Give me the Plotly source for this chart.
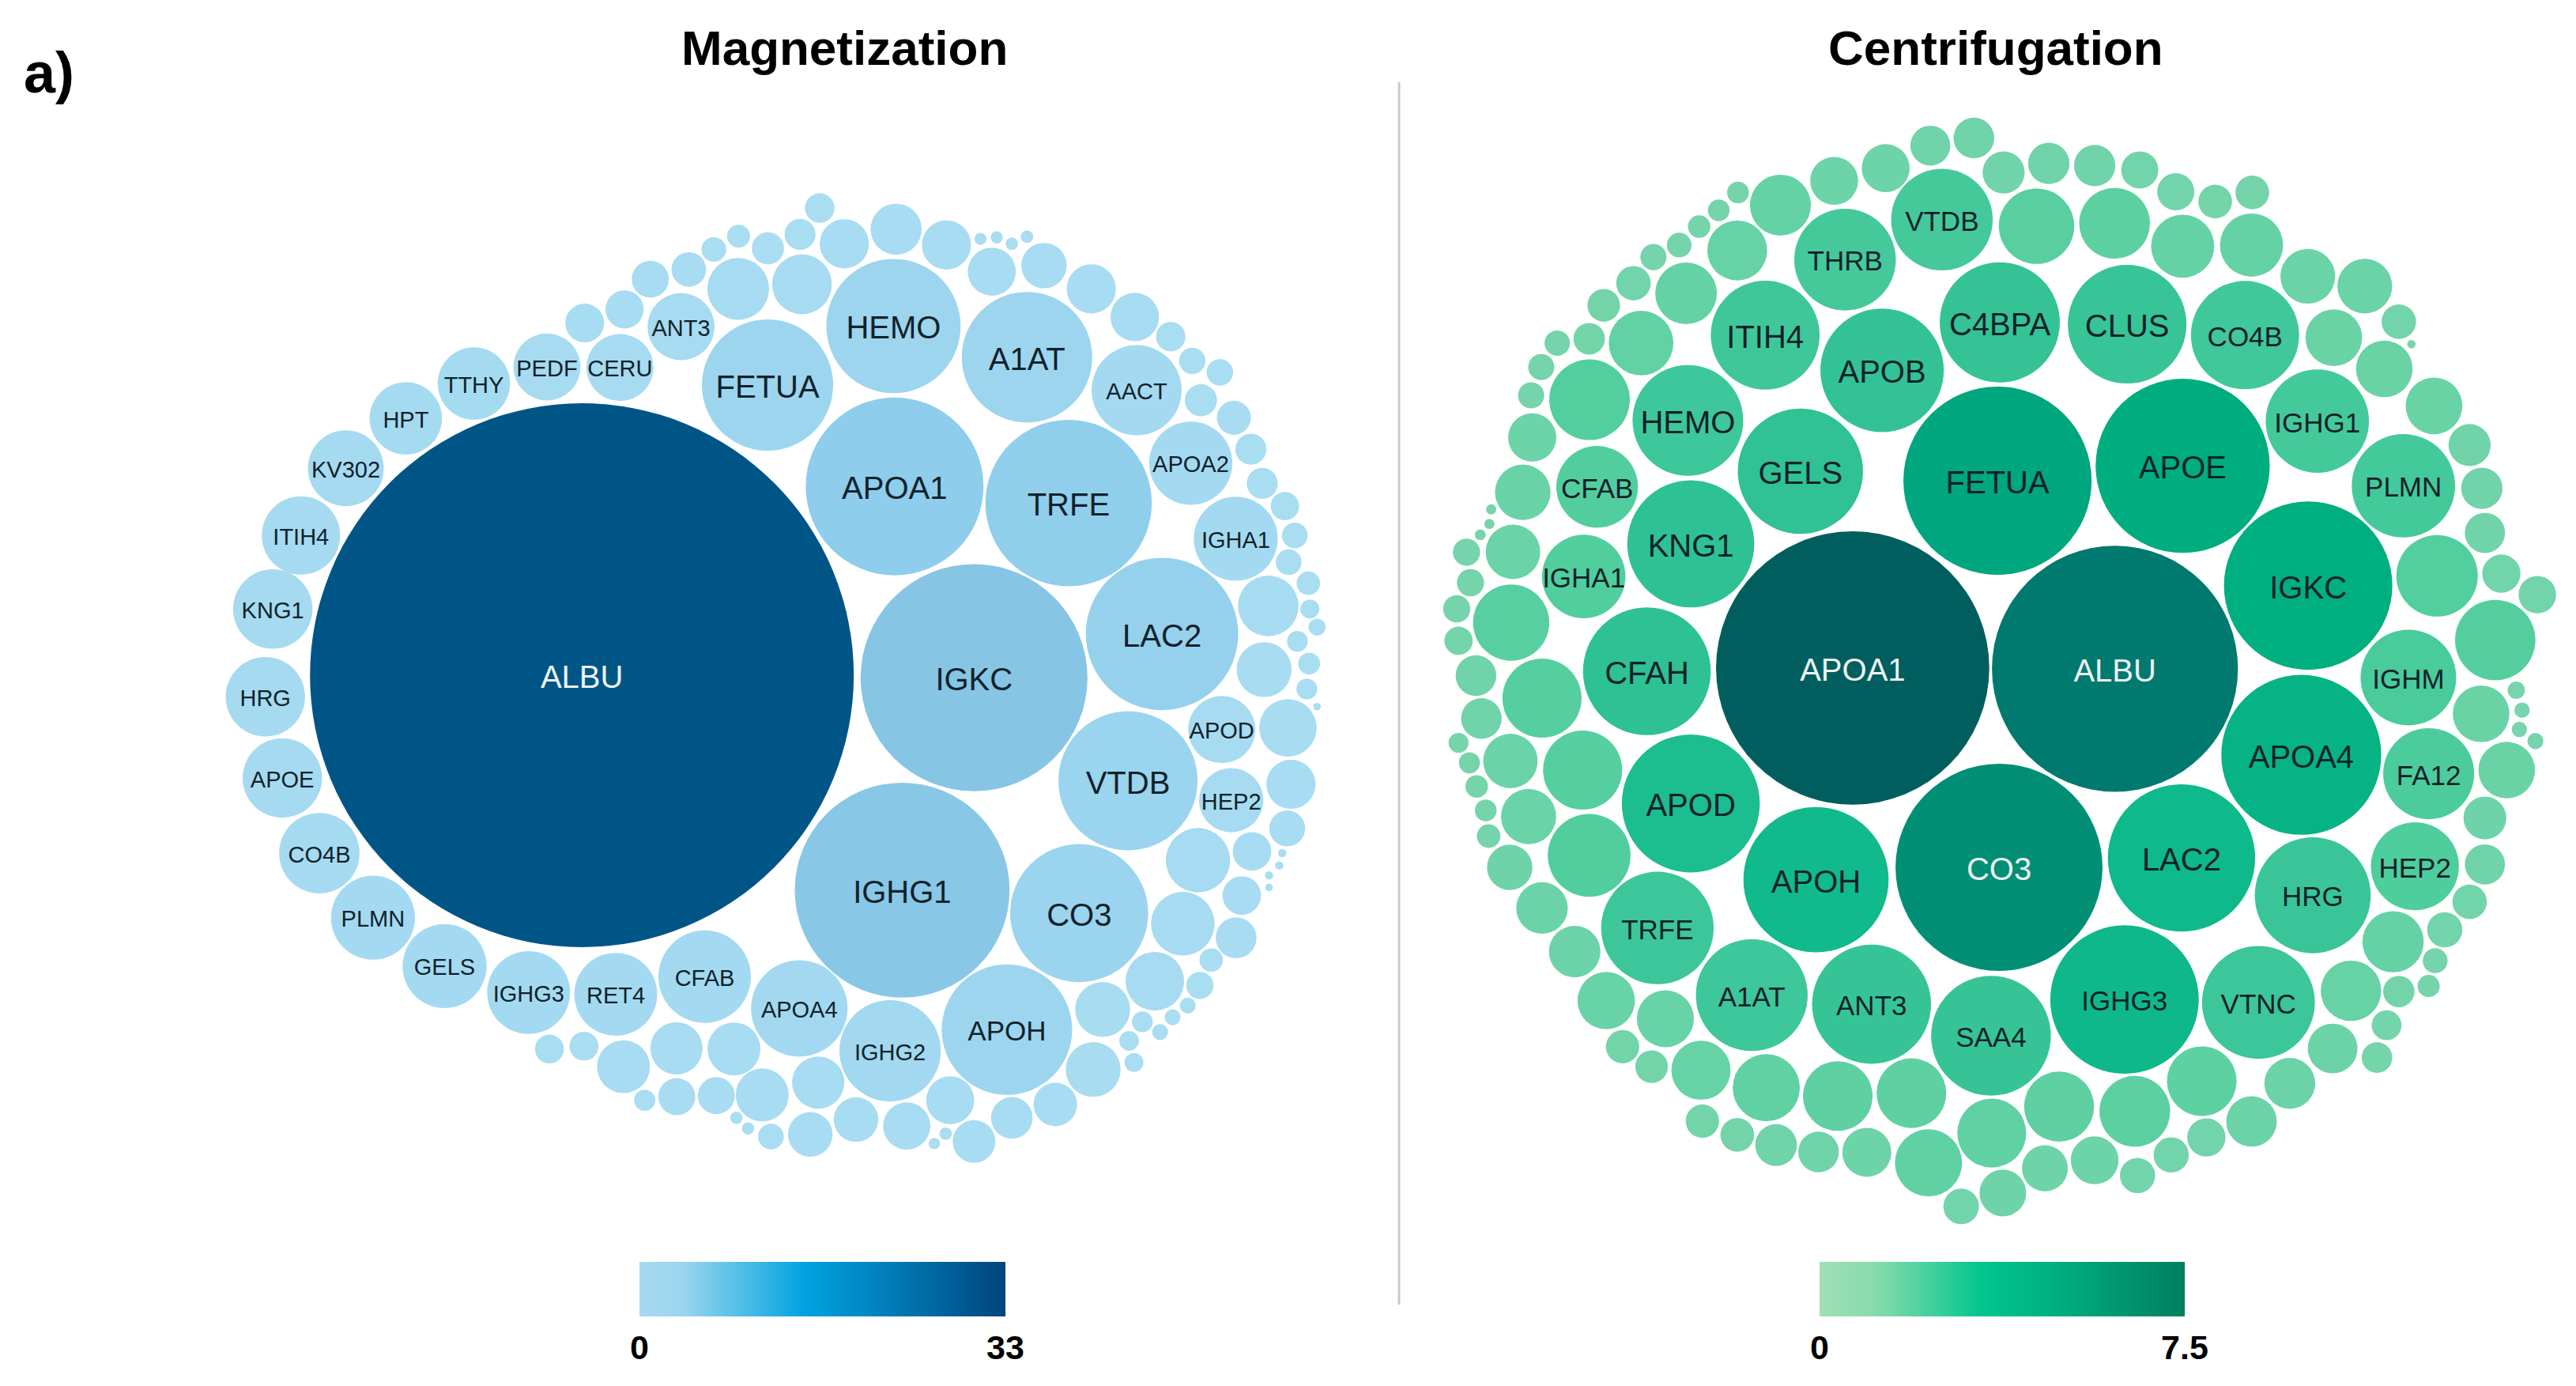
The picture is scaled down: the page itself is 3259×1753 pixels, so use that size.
import numpy as np
import plotly.graph_objects as go

W, H = 3259, 1753
FONT = "Liberation Sans"

# Packed-bubble readings. Each group was read from one crop of the picture, so
# each has its own reading frame: (left, top, px-per-x, px-per-y).
F_M1 = (250, 200, 2.24, 2.613)
F_M2 = (950, 200, 2.09, 2.613)
F_M3 = (250, 800, 2.24, 2.24)
F_M4 = (950, 800, 2.09, 2.24)
F_C5 = (1820, 130, 2.178, 2.178)
F_C6 = (2500, 130, 2.066, 2.178)
F_C7 = (1820, 850, 2.178, 2.178)
F_C8 = (2500, 850, 2.066, 2.178)

# ---------- Magnetization ----------
M1_NAMES = ["KNG1", "ITIH4", "KV302", "HPT", "TTHY", "PEDF", "CERU", "ANT3"]
M1_X = [213, 293, 420, 590, 783, 990, 1197, 1370]
M1_Y = [1490, 1247, 1025, 860, 745, 690, 692, 557]
M1_W = [225, 222, 215, 205, 205, 190, 190, 190]
M1B_X = [1097, 1210, 1283, 1392, 1463, 1533, 1532]
M1B_Y = [545, 500, 400, 368, 302, 258, 432]
M1B_W = [110, 108, 105, 98, 70, 65, 175]

M2_NAMES = ["FETUA", "HEMO", "A1AT", "AACT", "APOA2", "APOA1", "TRFE", "IGHA1"]
M2_X = [44, 377, 730, 1020, 1163, 380, 840, 1282]
M2_Y = [750, 555, 658, 767, 1008, 1085, 1140, 1258]
M2_W = [347, 355, 345, 238, 220, 470, 440, 222]
M2B_X = [135, 45, 130, 182, 247, 384, 517, 607, 650, 690, 730, 637, 775, 900, 1015, 1110, 1167, 1240,
         1190, 1277, 1322, 1352, 1412, 1438, 1422, 1474, 1478, 1368, 1497]
M2B_Y = [417, 298, 252, 165, 283, 235, 287, 267, 262, 283, 260, 375, 355, 432, 525, 590, 670, 708,
         800, 858, 962, 1075, 1150, 1247, 1335, 1405, 1490, 1480, 1550]
M2B_W = [158, 85, 82, 78, 130, 135, 130, 32, 32, 33, 33, 127, 120, 130, 128, 78, 70, 70,
         85, 90, 82, 82, 75, 68, 68, 62, 50, 160, 45]

M3_NAMES = ["HRG", "APOE", "CO4B", "PLMN", "GELS", "IGHG3", "RET4", "CFAB", "ALBU"]
M3_X = [192, 240, 345, 497, 700, 938, 1185, 1437, 1089]
M3_Y = [182, 412, 625, 808, 945, 1020, 1025, 975, 121]
M3_W = [225, 225, 228, 238, 238, 235, 235, 262, 1541]
M3B_X = [997, 1095, 1207, 1357, 1520, 1267, 1358, 1470, 1527, 1560]
M3B_Y = [1180, 1172, 1230, 1178, 1180, 1325, 1315, 1312, 1375, 1405]
M3B_W = [82, 82, 150, 148, 150, 60, 105, 105, 35, 35]

M4_NAMES = ["IGKC", "LAC2", "VTDB", "APOD", "HEP2", "IGHG1", "CO3", "APOH", "IGHG2", "APOA4"]
M4_X = [590, 1087, 997, 1245, 1270, 400, 868, 677, 368, 128]
M4_Y = [128, 4, 420, 275, 475, 730, 795, 1125, 1185, 1065]
M4_W = [600, 403, 368, 178, 170, 568, 365, 345, 268, 255]
M4B_X = [1357, 1445, 1476, 1470, 1497, 1420, 1428, 1418, 1182, 1325, 1298, 1142, 1283, 1405, 1397, 1370,
         1370, 1217, 1187, 1155, 1115, 1082, 1035, 1068, 930, 1000, 1013, 905, 805, 690, 527, 515, 485,
         590, 412, 278, 157, 53, 178, 30]
M4B_Y = [105, 25, 88, 160, 210, 270, 430, 555, 645, 620, 745, 825, 865, 625, 660, 688,
         722, 928, 1000, 1057, 1090, 1132, 1103, 988, 1068, 1157, 1218, 1238, 1337, 1375, 1325, 1420, 1448,
         1442, 1398, 1380, 1422, 1428, 1275, 1310]
M4B_W = [145, 55, 58, 55, 20, 152, 130, 95, 170, 102, 102, 168, 108, 22, 22, 22,
         20, 62, 72, 42, 42, 42, 55, 155, 145, 52, 50, 145, 115, 110, 127, 33, 30,
         113, 125, 118, 118, 68, 138, 140]

# ---------- Centrifugation ----------
C5_NAMES = ["VTDB", "THRB", "ITIH4", "APOB", "HEMO", "GELS", "CFAB", "KNG1", "IGHA1", "APOA1", "CFAH"]
C5_X = [1387, 1120, 900, 1222, 687, 997, 437, 695, 400, 1141, 574]
C5_Y = [322, 432, 640, 737, 875, 1015, 1058, 1215, 1305, 1557, 1566]
C5_W = [280, 280, 300, 340, 305, 345, 225, 350, 230, 753, 352]
C5B_X = [1475, 1355, 1232, 1090, 942, 825, 772, 718, 663, 592, 537, 682, 823, 455, 558, 415, 327, 283, 255,
         416, 258, 232, 145, 140, 115, 205, 77, 88, 50, 200, 55, 103]
C5B_Y = [97, 118, 180, 215, 282, 247, 296, 341, 392, 425, 497, 525, 407, 558, 662, 650, 662, 728, 806,
         818, 922, 1073, 1120, 1160, 1190, 1237, 1238, 1322, 1394, 1432, 1482, 1578]
C5B_W = [112, 110, 132, 132, 168, 60, 60, 62, 68, 72, 95, 170, 165, 90, 178, 87, 70, 72, 72,
         222, 133, 153, 28, 28, 30, 150, 75, 75, 75, 210, 78, 112]

C6_NAMES = ["C4BPA", "CLUS", "CO4B", "FETUA", "APOE", "IGHG1", "PLMN", "IGKC", "ALBU"]
C6_X = [62, 395, 703, 56, 540, 892, 1117, 868, 363]
C6_Y = [605, 610, 640, 1041, 1000, 877, 1055, 1330, 1559]
C6_W = [314, 310, 283, 492, 455, 270, 270, 440, 643]
C6B_X = [72, 190, 310, 428, 158, 362, 522, 625, 722, 540, 720, 867, 1016, 935, 1105, 1138, 1067, 1197,
         1290, 1322, 1330, 1205, 1373, 1467, 1357]
C6B_Y = [192, 167, 173, 185, 340, 332, 245, 272, 247, 395, 392, 478, 505, 647, 603, 665, 733, 835,
         943, 1062, 1185, 1303, 1297, 1355, 1480]
C6B_W = [110, 108, 108, 97, 197, 185, 97, 88, 88, 165, 165, 143, 143, 148, 90, 22, 148, 148,
         110, 108, 105, 213, 100, 98, 210]

C7_NAMES = ["APOD", "APOH", "TRFE", "A1AT", "ANT3"]
C7_X = [695, 1040, 603, 863, 1193]
C7_Y = [362, 572, 705, 890, 915]
C7_W = [380, 400, 310, 308, 328]
C7B_X = [285, 118, 55, 85, 198, 397, 105, 130, 248, 138, 415, 196, 285, 375, 462, 625, 507, 587, 723, 903,
         1100, 1303, 727, 823, 930, 1047, 1180, 1350, 1440]
C7B_Y = [72, 128, 195, 250, 245, 270, 315, 381, 398, 452, 505, 538, 650, 770, 905, 955, 1032, 1087, 1097, 1145,
         1168, 1160, 1237, 1275, 1303, 1322, 1323, 1352, 1472]
C7B_W = [218, 112, 55, 58, 150, 218, 62, 60, 152, 65, 228, 125, 142, 142, 158, 157, 92, 90, 163, 185,
         192, 192, 92, 93, 115, 112, 135, 185, 98]

C8_NAMES = ["APOA4", "LAC2", "HRG", "IGHG3", "VTNC", "FA12", "HEP2", "IGHM", "CO3", "SAA4"]
C8_X = [850, 537, 880, 388, 738, 1183, 1147, 1130, 60, 39]
C8_Y = [228, 512, 615, 902, 910, 280, 535, 15, 538, 1002]
C8_W = [418, 385, 303, 388, 295, 238, 230, 250, 541, 313]
C8B_X = [1320, 1412, 1427, 1420, 1462, 1387, 1330, 1330, 1290, 1225, 1200, 1183, 1090, 980, 1105, 1073, 1048,
         932, 820, 590, 720, 602, 510, 422, 310, 415, 217, 180, 70, 41]
C8B_Y = [115, 50, 105, 158, 190, 270, 402, 530, 633, 710, 795, 865, 743, 878, 880, 973, 1062,
         1037, 1133, 1127, 1238, 1282, 1330, 1387, 1345, 1210, 1197, 1367, 1435, 1270]
C8B_W = [148, 45, 40, 40, 42, 148, 112, 105, 90, 92, 65, 58, 160, 158, 82, 78, 80,
         130, 133, 182, 132, 100, 92, 92, 125, 185, 183, 120, 122, 180]

# Colour bars and bubble colour ramps (position along the value range, colour)
MAG_MAX, CEN_MAX = 33, 7.5
MAG_TICKS, MAG_TICKTEXT = [0, 33], ["0", "33"]
CEN_TICKS, CEN_TICKTEXT = [0, 7.5], ["0", "7.5"]
MAG_BAR = [[0, "#A6DAF0"], [0.12, "#9AD5EE"], [0.45, "#00A3E0"], [0.65, "#0082BE"], [1, "#00457C"]]
CEN_BAR = [[0, "#9FE0B5"], [0.15, "#88DBAC"], [0.45, "#00C58C"], [0.65, "#00AE80"], [1, "#007F60"]]
MAG_BUBBLE = [[0, "#A9DDF2"], [0.06, "#9DD5EF"], [0.09, "#90CFEC"], [0.175, "#87C5E5"], [1, "#005587"]]
CEN_BUBBLE = [[0, "#78D4AC"], [0.04, "#6AD3A7"], [0.09, "#52CE9E"], [0.164, "#3EC79A"], [0.214, "#2FC194"],
              [0.28, "#10BA8C"], [0.38, "#00AF80"], [0.473, "#00A67D"], [0.573, "#008F75"],
              [0.81, "#007A6E"], [1, "#005F5E"]]

MAG_BIG = {"ALBU", "IGKC", "IGHG1", "APOA1", "TRFE", "LAC2", "VTDB", "CO3", "HEMO", "A1AT", "FETUA"}
MAG_MID = {"APOH"}
MAG_WHITE = {"ALBU"}
CEN_BIG = {"FETUA", "APOE", "IGKC", "APOA4", "LAC2", "APOH", "APOD", "KNG1", "GELS", "CFAH", "HEMO", "APOB",
           "ITIH4", "C4BPA", "CLUS", "ALBU", "APOA1", "CO3"}
CEN_WHITE = {"ALBU", "APOA1", "CO3"}


def read(frame, xs, ys, ws, names=None):
    x0, y0, fx, fy = frame
    names = names if names is not None else [""] * len(xs)
    return [(x0 + x / fx, y0 + y / fy, w / fx, n) for x, y, w, n in zip(xs, ys, ws, names, strict=True)]


mag = (read(F_M1, M1_X, M1_Y, M1_W, M1_NAMES) + read(F_M1, M1B_X, M1B_Y, M1B_W)
       + read(F_M2, M2_X, M2_Y, M2_W, M2_NAMES) + read(F_M2, M2B_X, M2B_Y, M2B_W)
       + read(F_M3, M3_X, M3_Y, M3_W, M3_NAMES) + read(F_M3, M3B_X, M3B_Y, M3B_W)
       + read(F_M4, M4_X, M4_Y, M4_W, M4_NAMES) + read(F_M4, M4B_X, M4B_Y, M4B_W))
cen = (read(F_C5, C5_X, C5_Y, C5_W, C5_NAMES) + read(F_C5, C5B_X, C5B_Y, C5B_W)
       + read(F_C6, C6_X, C6_Y, C6_W, C6_NAMES) + read(F_C6, C6B_X, C6B_Y, C6B_W)
       + read(F_C7, C7_X, C7_Y, C7_W, C7_NAMES) + read(F_C7, C7B_X, C7B_Y, C7B_W)
       + read(F_C8, C8_X, C8_Y, C8_W, C8_NAMES) + read(F_C8, C8B_X, C8B_Y, C8B_W))

fig = go.Figure()


def bubbles(rows, vmax, scale, big, mid, white, big_size, mid_size, small_size):
    dmax = max(r[2] for r in rows)
    values = [vmax * (r[2] / dmax) ** 2 for r in rows]  # bubble area encodes the value
    fig.add_trace(go.Scatter(
        x=[r[0] for r in rows], y=[r[1] for r in rows], mode="markers",
        marker=dict(size=[r[2] for r in rows], color=values, cmin=0, cmax=vmax, colorscale=scale,
                    line=dict(width=0), opacity=1, showscale=False),
        cliponaxis=False, showlegend=False, hoverinfo="skip"))
    named = [r for r in rows if r[3]]
    sizes = [big_size if r[3] in big else mid_size if r[3] in mid else small_size for r in named]
    # labels sit optically centred in the bubble: nudge down by a share of the font size
    fig.add_trace(go.Scatter(
        x=[r[0] for r in named], y=[r[1] + 0.15 * s for r, s in zip(named, sizes)],
        text=[r[3] for r in named], mode="text", textposition="middle center",
        textfont=dict(family=FONT, size=sizes,
                      color=["#EEF4F4" if r[3] in white else "#10222A" for r in named]),
        cliponaxis=False, showlegend=False, hoverinfo="text"))


bubbles(mag, MAG_MAX, MAG_BUBBLE, MAG_BIG, MAG_MID, MAG_WHITE, 40, 35, 29)
bubbles(cen, CEN_MAX, CEN_BUBBLE, CEN_BIG, set(), CEN_WHITE, 40, 35, 35)


def colourbar(vmax, scale, xaxis, yaxis):
    grid = np.linspace(0, vmax, 240)
    fig.add_trace(go.Heatmap(x=grid, y=[0, 1], z=[grid, grid], zmin=0, zmax=vmax, colorscale=scale,
                             showscale=False, xaxis=xaxis, yaxis=yaxis, hoverinfo="skip"))


colourbar(MAG_MAX, MAG_BAR, "x2", "y2")
colourbar(CEN_MAX, CEN_BAR, "x3", "y3")

plain = dict(showgrid=False, zeroline=False, showticklabels=False, ticks="", showline=False, automargin=False)
bar_font = dict(family=FONT, size=43, color="#000000")
y_dom = [1 - 1665 / H, 1 - 1596 / H]
fig.update_layout(
    width=W, height=H, margin=dict(l=0, r=0, t=0, b=0, autoexpand=False), paper_bgcolor="white",
    plot_bgcolor="white",
    xaxis=dict(range=[0, W], domain=[0, 1], **plain),
    yaxis=dict(range=[H, 0], domain=[0, 1], **plain),
    xaxis2=dict(domain=[809 / W, 1272 / W], range=[0, MAG_MAX], anchor="y2", showgrid=False, zeroline=False,
                tickvals=MAG_TICKS, ticktext=[f"<b>{t}</b>" for t in MAG_TICKTEXT], tickfont=bar_font,
                ticks="outside", ticklen=1, tickcolor="rgba(0,0,0,0)", automargin=False),
    yaxis2=dict(domain=y_dom, range=[0, 1], anchor="x2", **plain),
    xaxis3=dict(domain=[2302 / W, 2764 / W], range=[0, CEN_MAX], anchor="y3", showgrid=False, zeroline=False,
                tickvals=CEN_TICKS, ticktext=[f"<b>{t}</b>" for t in CEN_TICKTEXT], tickfont=bar_font,
                ticks="outside", ticklen=1, tickcolor="rgba(0,0,0,0)", automargin=False),
    yaxis3=dict(domain=y_dom, range=[0, 1], anchor="x3", **plain),
    shapes=[dict(type="line", xref="x", yref="y", x0=1770, x1=1770, y0=104, y1=1650,
                 line=dict(color="#C9C9C9", width=3))],
    annotations=[
        dict(text="<b>Magnetization</b>", x=1068, y=60, xref="x", yref="y", showarrow=False,
             font=dict(family=FONT, size=62, color="#000000")),
        dict(text="<b>Centrifugation</b>", x=2525, y=60, xref="x", yref="y", showarrow=False,
             font=dict(family=FONT, size=62, color="#000000")),
        dict(text="<b>a)</b>", x=62, y=92, xref="x", yref="y", showarrow=False,
             font=dict(family=FONT, size=72, color="#000000")),
    ],
)

fig.write_html("out.html", config={"displayModeBar": False},
               post_script="document.body.style.margin='0';document.body.style.overflow='hidden';")
